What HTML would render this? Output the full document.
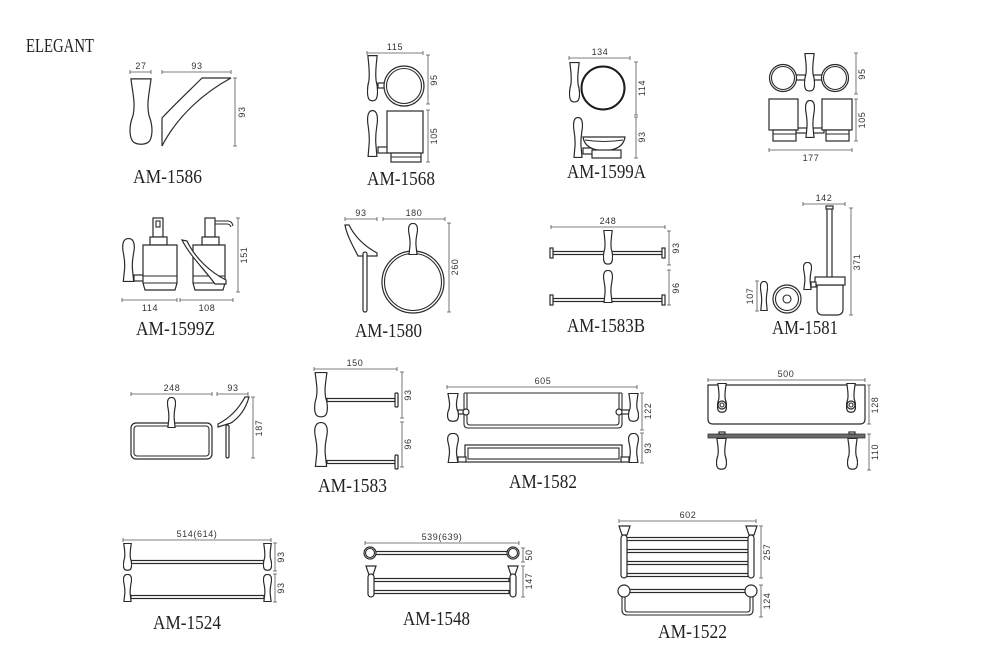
<!DOCTYPE html>
<html><head><meta charset="utf-8"><style>
html,body{margin:0;padding:0;background:#fff;}
svg{display:block;}
.s{fill:#fff;stroke:#2a2a2a;stroke-width:1.2;}
.l{fill:none;stroke:#2a2a2a;stroke-width:1.1;}
.d{fill:none;stroke:#555;stroke-width:0.8;}
.t{font-family:"Liberation Sans",sans-serif;font-size:9px;fill:#333;letter-spacing:0.6px;}
.L{font-family:"Liberation Serif",serif;font-size:20px;fill:#222;}
</style></head><body>
<svg width="1000" height="663" viewBox="0 0 1000 663" xmlns="http://www.w3.org/2000/svg">
<defs>
<symbol id="hA" viewBox="0 0 10 40" preserveAspectRatio="none">
<path vector-effect="non-scaling-stroke" fill="#fff" stroke="#2a2a2a" stroke-width="1.2" d="M0.8,0.5 L9.2,0.5 C8.3,10 7.3,15 8.3,22 C10,28 9.9,34 8.6,37 C7.2,39.6 2.8,39.6 1.4,37 C0.1,34 0,28 1.7,22 C2.7,15 1.7,10 0.8,0.5 Z"/>
</symbol>
<symbol id="hB" viewBox="0 0 10 40" preserveAspectRatio="none">
<path vector-effect="non-scaling-stroke" fill="#fff" stroke="#2a2a2a" stroke-width="1.2" d="M5,0.5 C8.8,0.5 9.8,5 9.4,10 C9,15 7.5,19 8,28 L9,39.5 L1,39.5 L2,28 C2.5,19 1,15 0.6,10 C0.2,5 1.2,0.5 5,0.5 Z"/>
</symbol>
</defs>
<rect width="1000" height="663" fill="#fff"/>

<text x="26" y="52" class="L" font-size="19" textLength="68" lengthAdjust="spacingAndGlyphs">ELEGANT</text>

<!-- AM-1586 -->
<g>
<path class="d" d="M130,72H151M130,70V74M151,70V74"/>
<text class="t" x="141" y="69" text-anchor="middle">27</text>
<path class="d" d="M162,72H231M162,70V74M231,70V74"/>
<text class="t" x="197" y="69" text-anchor="middle">93</text>
<path class="d" d="M235,78V146M233,78H237M233,146H237"/>
<text class="t" transform="translate(245,112) rotate(-90)" text-anchor="middle">93</text>
<use href="#hA" x="129" y="78" width="24" height="68"/>
<path class="s" d="M162,146 L162,118 C175,104 190,90 202,78 L231,78 C205,92 178,115 162,146 Z"/>
<text class="L" x="133" y="183" textLength="69" lengthAdjust="spacingAndGlyphs">AM-1586</text>
</g>

<!-- AM-1568 -->
<g>
<path class="d" d="M367,53H423M367,51V55M423,51V55"/>
<text class="t" x="395" y="50" text-anchor="middle">115</text>
<use href="#hA" x="367" y="55" width="11" height="47"/>
<rect class="s" x="378" y="83" width="7" height="5"/>
<circle class="s" cx="404" cy="86" r="20"/>
<circle class="l" cx="404" cy="86" r="17.5"/>
<path class="d" d="M428,55V104M426,55H430M426,104H430"/>
<text class="t" transform="translate(437,80) rotate(-90)" text-anchor="middle">95</text>
<use href="#hB" x="367" y="110" width="11" height="47"/>
<rect class="s" x="378" y="147" width="10" height="6"/>
<rect class="s" x="387" y="111" width="36" height="42"/>
<rect class="s" x="391" y="153" width="30" height="9"/>
<path class="l" d="M391,157H421"/>
<path class="d" d="M428,110V162M426,110H430M426,162H430"/>
<text class="t" transform="translate(437,136) rotate(-90)" text-anchor="middle">105</text>
<text class="L" x="367" y="185" textLength="68" lengthAdjust="spacingAndGlyphs">AM-1568</text>
</g>

<!-- AM-1599A -->
<g>
<path class="d" d="M569,58H630M569,56V60M630,56V60"/>
<text class="t" x="600" y="55" text-anchor="middle">134</text>
<use href="#hA" x="569" y="62" width="11" height="41"/>
<circle cx="603" cy="88" r="21.5" fill="#fff" stroke="#1a1a1a" stroke-width="2"/>
<path class="d" d="M636,62V115M634,62H638M634,115H638"/>
<text class="t" transform="translate(645,88) rotate(-90)" text-anchor="middle">114</text>
<use href="#hB" x="573" y="117" width="10" height="41"/>
<rect class="s" x="583" y="148" width="10" height="6"/>
<path class="s" d="M583,137 L625,137 C624,145 618,150 604,151 C590,150 584,145 583,137 Z"/>
<path class="l" d="M585,140 Q604,143 623,140"/>
<rect class="s" x="592" y="150" width="29" height="8"/>
<path class="d" d="M636,117V158M634,117H638M634,158H638"/>
<text class="t" transform="translate(645,137) rotate(-90)" text-anchor="middle">93</text>
<text class="L" x="567" y="178" textLength="79" lengthAdjust="spacingAndGlyphs">AM-1599A</text>
</g>

<!-- double tumbler -->
<g>
<rect class="s" x="796" y="75" width="30" height="5"/>
<circle class="s" cx="783" cy="78" r="13.5"/>
<circle class="l" cx="783" cy="78" r="11.5"/>
<circle class="s" cx="835" cy="78" r="13.5"/>
<circle class="l" cx="835" cy="78" r="11.5"/>
<use href="#hA" x="804" y="53" width="11" height="39"/>
<rect class="s" x="796" y="128" width="28" height="5"/>
<rect class="s" x="769" y="99" width="29" height="31"/>
<rect class="s" x="773" y="130" width="23" height="11"/>
<path class="l" d="M773,134H796"/>
<rect class="s" x="822" y="99" width="30" height="31"/>
<rect class="s" x="826" y="130" width="23" height="11"/>
<path class="l" d="M826,134H849"/>
<use href="#hB" x="805" y="100" width="10" height="38"/>
<path class="d" d="M856,53V94M854,53H858M854,94H858"/>
<text class="t" transform="translate(865,74) rotate(-90)" text-anchor="middle">95</text>
<path class="d" d="M856,99V141M854,99H858M854,141H858"/>
<text class="t" transform="translate(865,120) rotate(-90)" text-anchor="middle">105</text>
<path class="d" d="M769,150H852M769,148V152M852,148V152"/>
<text class="t" x="811" y="161" text-anchor="middle">177</text>
</g>

<!-- AM-1599Z -->
<g>
<use href="#hB" x="122" y="238" width="13" height="44"/>
<rect class="s" x="134" y="275" width="10" height="6"/>
<rect class="s" x="153" y="218" width="10" height="19"/>
<rect class="l" x="156" y="221" width="4" height="6"/>
<rect class="s" x="150" y="237" width="17" height="8"/>
<path class="s" d="M143,245 H177 V283 L175,290 H145 L143,283 Z"/>
<path class="l" d="M143,276H177M143,283H177"/>
<rect class="s" x="205" y="218" width="10" height="19"/>
<path class="l" d="M215,221 H228 Q232,221 233,226 M215,224 H227 Q230,224 231,227"/>
<rect class="s" x="202" y="237" width="17" height="8"/>
<path class="s" d="M193,245 H225 V283 L223,290 H195 L193,283 Z"/>
<path class="l" d="M193,276H225M193,283H225"/>
<path class="s" d="M182,240 L187,241 C195,258 210,272 226,280 L226,284 L215,284 C205,270 190,256 182,240 Z"/>
<path class="d" d="M238,218V292M236,218H240M236,292H240"/>
<text class="t" transform="translate(247,255) rotate(-90)" text-anchor="middle">151</text>
<path class="d" d="M122,300H177M122,298V302M177,298V302"/>
<text class="t" x="150" y="311" text-anchor="middle">114</text>
<path class="d" d="M180,300H233M180,298V302M233,298V302"/>
<text class="t" x="207" y="311" text-anchor="middle">108</text>
<text class="L" x="136" y="335" textLength="79" lengthAdjust="spacingAndGlyphs">AM-1599Z</text>
</g>

<!-- AM-1580 -->
<g>
<path class="d" d="M345,219H377M345,217V221M377,217V221"/>
<text class="t" x="361" y="216" text-anchor="middle">93</text>
<path class="d" d="M383,219H445M383,217V221M445,217V221"/>
<text class="t" x="414" y="216" text-anchor="middle">180</text>
<path class="s" d="M345,225 L349,225 C356,239 366,247 377,253 L377,256 L358,256 C353,246 347,236 345,225 Z"/>
<rect class="s" x="363" y="252" width="4" height="60" rx="2"/>
<circle class="s" cx="413" cy="282" r="31"/>
<circle class="l" cx="413" cy="282" r="28.5"/>
<use href="#hB" x="408" y="223" width="10" height="32"/>
<path class="d" d="M449,223V312M447,223H451M447,312H451"/>
<text class="t" transform="translate(458,267) rotate(-90)" text-anchor="middle">260</text>
<text class="L" x="355" y="337" textLength="67" lengthAdjust="spacingAndGlyphs">AM-1580</text>
</g>

<!-- AM-1583B -->
<g>
<path class="d" d="M551,227H665M551,225V229M665,225V229"/>
<text class="t" x="608" y="224" text-anchor="middle">248</text>
<rect class="s" x="553" y="251.5" width="109" height="3"/>
<rect class="s" x="550" y="248" width="3" height="10"/>
<rect class="s" x="662" y="248" width="3" height="10"/>
<use href="#hA" x="603" y="230" width="10" height="35"/>
<rect class="s" x="553" y="298.5" width="109" height="3"/>
<rect class="s" x="550" y="295" width="3" height="10"/>
<rect class="s" x="662" y="295" width="3" height="10"/>
<use href="#hB" x="603" y="270" width="10" height="33"/>
<path class="d" d="M669,231V265M667,231H671M667,265H671"/>
<text class="t" transform="translate(679,248) rotate(-90)" text-anchor="middle">93</text>
<path class="d" d="M669,270V305M667,270H671M667,305H671"/>
<text class="t" transform="translate(679,288) rotate(-90)" text-anchor="middle">96</text>
<text class="L" x="567" y="332" textLength="78" lengthAdjust="spacingAndGlyphs">AM-1583B</text>
</g>

<!-- AM-1581 -->
<g>
<path class="d" d="M803,204H845M803,202V206M845,202V206"/>
<text class="t" x="824" y="201" text-anchor="middle">142</text>
<rect class="s" x="827" y="208" width="5" height="70"/>
<rect class="s" x="826" y="206" width="7" height="3"/>
<path class="s" d="M817,285 H843 V309 Q843,315 837,315 H823 Q817,315 817,309 Z"/>
<rect class="s" x="815" y="277" width="30" height="8"/>
<use href="#hB" x="803" y="262" width="9" height="28"/>
<rect class="s" x="811" y="282" width="5" height="5"/>
<path class="d" d="M851,208V315M849,208H853M849,315H853"/>
<text class="t" transform="translate(860,262) rotate(-90)" text-anchor="middle">371</text>
<use href="#hB" x="760" y="281" width="8" height="30"/>
<circle class="s" cx="787" cy="299" r="14"/>
<circle class="l" cx="787" cy="299" r="11.5"/>
<circle class="l" cx="787" cy="299" r="4"/>
<path class="d" d="M757,281V311M755,281H759M755,311H759"/>
<text class="t" transform="translate(753,296) rotate(-90)" text-anchor="middle">107</text>
<text class="L" x="772" y="334" textLength="66" lengthAdjust="spacingAndGlyphs">AM-1581</text>
</g>

<!-- towel ring rect -->
<g>
<path class="d" d="M131,394H212M131,392V396M212,392V396"/>
<text class="t" x="172" y="391" text-anchor="middle">248</text>
<path class="d" d="M217,394H248M217,392V396M248,392V396"/>
<text class="t" x="233" y="391" text-anchor="middle">93</text>
<rect class="s" x="131" y="423" width="81" height="36" rx="5"/>
<rect class="l" x="134" y="426" width="75" height="30" rx="3"/>
<use href="#hB" x="167" y="397" width="9" height="31"/>
<path class="s" d="M218,427 L231,423 C240,417 246,408 249,397 L245,397 C238,410 228,419 218,424 Z"/>
<rect class="s" x="226" y="425" width="3" height="33" rx="1.5"/>
<path class="d" d="M253,397V458M251,397H255M251,458H255"/>
<text class="t" transform="translate(262,428) rotate(-90)" text-anchor="middle">187</text>
</g>

<!-- AM-1583 -->
<g>
<path class="d" d="M314,369H397M314,367V371M397,367V371"/>
<text class="t" x="355" y="366" text-anchor="middle">150</text>
<rect class="s" x="327" y="398.5" width="68" height="3"/>
<rect class="s" x="395" y="393" width="3" height="14" rx="1"/>
<use href="#hA" x="314" y="372" width="14" height="46"/>
<rect class="s" x="327" y="460.5" width="68" height="3"/>
<rect class="s" x="395" y="455" width="3" height="14" rx="1"/>
<use href="#hB" x="314" y="422" width="14" height="45"/>
<path class="d" d="M402,372V418M400,372H404M400,418H404"/>
<text class="t" transform="translate(411,395) rotate(-90)" text-anchor="middle">93</text>
<path class="d" d="M402,422V467M400,422H404M400,467H404"/>
<text class="t" transform="translate(411,444) rotate(-90)" text-anchor="middle">96</text>
<text class="L" x="318" y="492" textLength="69" lengthAdjust="spacingAndGlyphs">AM-1583</text>
</g>

<!-- AM-1582 -->
<g>
<path class="d" d="M447,387H637M447,385V389M637,385V389"/>
<text class="t" x="543" y="384" text-anchor="middle">605</text>
<path class="l" d="M464,393H622" stroke="#999"/>
<path class="l" d="M464,393 L464,424 Q464,428 468,428 L618,428 Q622,428 622,424 L622,393"/>
<path class="l" d="M467,393 L467,422 Q467,425 470,425 L616,425 Q619,425 619,422 L619,393"/>
<rect class="s" x="458" y="410" width="7" height="4"/>
<rect class="s" x="621" y="410" width="8" height="4"/>
<circle class="s" cx="466" cy="412" r="3"/>
<circle class="s" cx="619" cy="412" r="3"/>
<use href="#hA" x="447" y="393" width="12" height="29"/>
<use href="#hA" x="628" y="393" width="11" height="29"/>
<rect class="s" x="465" y="445" width="157" height="17"/>
<rect class="l" x="468" y="448" width="151" height="11"/>
<rect class="s" x="458" y="457" width="8" height="5"/>
<rect class="s" x="621" y="457" width="8" height="5"/>
<use href="#hB" x="447" y="433" width="12" height="30"/>
<use href="#hB" x="628" y="433" width="11" height="30"/>
<path class="d" d="M642,393V430M640,393H644M640,430H644"/>
<text class="t" transform="translate(651,411) rotate(-90)" text-anchor="middle">122</text>
<path class="d" d="M642,433V463M640,433H644M640,463H644"/>
<text class="t" transform="translate(651,448) rotate(-90)" text-anchor="middle">93</text>
<text class="L" x="509" y="488" textLength="68" lengthAdjust="spacingAndGlyphs">AM-1582</text>
</g>

<!-- glass shelf -->
<g>
<path class="d" d="M708,380H865M708,378V382M865,378V382"/>
<text class="t" x="786" y="377" text-anchor="middle">500</text>
<path class="s" d="M708,385 L865,385 L865,419 Q865,424 860,424 L713,424 Q708,424 708,419 Z"/>
<use href="#hA" x="717" y="383" width="10" height="30"/>
<circle class="s" cx="722" cy="405" r="4"/>
<circle class="l" cx="722" cy="405" r="2"/>
<use href="#hA" x="846" y="383" width="10" height="30"/>
<circle class="s" cx="851" cy="405" r="4"/>
<circle class="l" cx="851" cy="405" r="2"/>
<rect x="708" y="434" width="157" height="4" fill="#6a6a6a" stroke="#333" stroke-width="0.8"/>
<rect class="s" x="719" y="432" width="6" height="2"/>
<rect class="s" x="849" y="432" width="6" height="2"/>
<use href="#hA" x="716" y="438" width="11" height="32"/>
<use href="#hA" x="847" y="438" width="11" height="32"/>
<path class="d" d="M869,385V424M867,385H871M867,424H871"/>
<text class="t" transform="translate(878,405) rotate(-90)" text-anchor="middle">128</text>
<path class="d" d="M869,434V470M867,434H871M867,470H871"/>
<text class="t" transform="translate(878,452) rotate(-90)" text-anchor="middle">110</text>
</g>

<!-- AM-1524 -->
<g>
<path class="d" d="M123,540H271M123,538V542M271,538V542"/>
<text class="t" x="197" y="537" text-anchor="middle">514(614)</text>
<rect class="s" x="131" y="560.5" width="133" height="3"/>
<use href="#hA" x="123" y="543" width="9" height="28"/>
<use href="#hA" x="263" y="543" width="9" height="28"/>
<rect class="s" x="131" y="595.5" width="133" height="3"/>
<use href="#hB" x="123" y="574" width="9" height="28"/>
<use href="#hB" x="263" y="574" width="9" height="28"/>
<path class="d" d="M275,543V571M273,543H277M273,571H277"/>
<text class="t" transform="translate(284,557) rotate(-90)" text-anchor="middle">93</text>
<path class="d" d="M275,574V602M273,574H277M273,602H277"/>
<text class="t" transform="translate(284,588) rotate(-90)" text-anchor="middle">93</text>
<text class="L" x="153" y="629" textLength="68" lengthAdjust="spacingAndGlyphs">AM-1524</text>
</g>

<!-- AM-1548 -->
<g>
<path class="d" d="M365,543H519M365,541V545M519,541V545"/>
<text class="t" x="442" y="540" text-anchor="middle">539(639)</text>
<rect class="s" x="375" y="551.5" width="133" height="3"/>
<circle class="s" cx="370" cy="553" r="6"/>
<circle class="l" cx="370" cy="553" r="4.5"/>
<circle class="s" cx="513" cy="553" r="6"/>
<circle class="l" cx="513" cy="553" r="4.5"/>
<rect class="s" x="372" y="578.5" width="137" height="3"/>
<rect class="s" x="372" y="590.5" width="137" height="3"/>
<path class="s" d="M366,566 L376,566 L373,575 L369,575 Z"/>
<rect class="s" x="368" y="574" width="6" height="23" rx="3"/>
<path class="s" d="M508,566 L518,566 L515,575 L511,575 Z"/>
<rect class="s" x="510" y="574" width="6" height="23" rx="3"/>
<path class="d" d="M523,548V562M521,548H525M521,562H525"/>
<text class="t" transform="translate(532,555) rotate(-90)" text-anchor="middle">50</text>
<path class="d" d="M523,566V597M521,566H525M521,597H525"/>
<text class="t" transform="translate(532,581) rotate(-90)" text-anchor="middle">147</text>
<text class="L" x="403" y="625" textLength="67" lengthAdjust="spacingAndGlyphs">AM-1548</text>
</g>

<!-- AM-1522 -->
<g>
<path class="d" d="M619,521H756M619,519V523M756,519V523"/>
<text class="t" x="688" y="518" text-anchor="middle">602</text>
<rect class="s" x="626" y="537.5" width="123" height="3"/>
<rect class="s" x="626" y="549.5" width="123" height="3"/>
<rect class="s" x="626" y="561.5" width="123" height="3"/>
<rect class="s" x="626" y="573.5" width="123" height="3"/>
<path class="s" d="M619,526 L630,526 L627,535 L622,535 Z"/>
<rect class="s" x="621" y="535" width="6" height="43" rx="3"/>
<path class="s" d="M746,526 L757,526 L754,535 L749,535 Z"/>
<rect class="s" x="748" y="535" width="6" height="43" rx="3"/>
<path class="l" d="M622,597 L622,610 Q622,615 627,615 L748,615 Q753,615 753,610 L753,597"/>
<path class="l" d="M625,597 L625,609 Q625,612 628,612 L747,612 Q750,612 750,609 L750,597"/>
<rect class="s" x="629" y="589.5" width="117" height="3"/>
<circle class="s" cx="624" cy="591" r="6"/>
<circle class="s" cx="751" cy="591" r="6"/>
<path class="d" d="M761,526V578M759,526H763M759,578H763"/>
<text class="t" transform="translate(770,552) rotate(-90)" text-anchor="middle">257</text>
<path class="d" d="M761,585V617M759,585H763M759,617H763"/>
<text class="t" transform="translate(770,601) rotate(-90)" text-anchor="middle">124</text>
<text class="L" x="658" y="638" textLength="69" lengthAdjust="spacingAndGlyphs">AM-1522</text>
</g>
</svg>
</body></html>
